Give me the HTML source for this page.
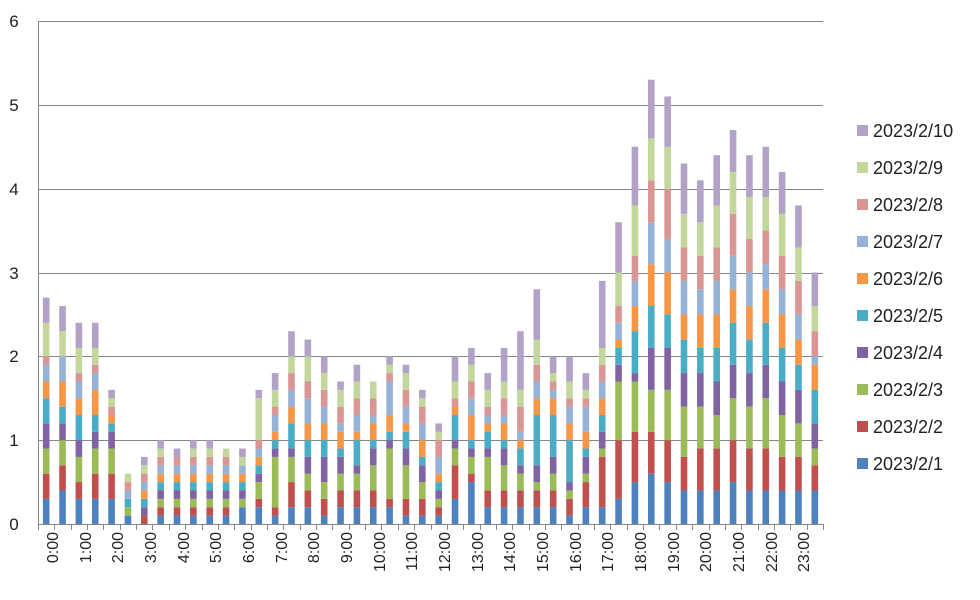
<!DOCTYPE html>
<html><head><meta charset="utf-8"><style>
html,body{margin:0;padding:0;background:#fff;}
svg{display:block;font-family:"Liberation Sans",sans-serif;}
</style></head><body>
<svg id="s" width="980" height="600" viewBox="0 0 980 600" xmlns="http://www.w3.org/2000/svg">
<g stroke="#868686" stroke-width="1">
<line x1="38" y1="21.5" x2="823" y2="21.5"/>
<line x1="38" y1="105.5" x2="823" y2="105.5"/>
<line x1="38" y1="189.5" x2="823" y2="189.5"/>
<line x1="38" y1="273.5" x2="823" y2="273.5"/>
<line x1="38" y1="356.5" x2="823" y2="356.5"/>
<line x1="38" y1="440.5" x2="823" y2="440.5"/>
<line x1="38" y1="524.5" x2="823" y2="524.5"/>
<line x1="38.5" y1="21" x2="38.5" y2="524"/>
</g>
<g id="bars"></g>
<g id="ticks" stroke="#868686" stroke-width="1"></g>
<g font-size="17" fill="#222" text-anchor="middle">
<text x="14" y="27">6</text><text x="14" y="111">5</text><text x="14" y="195">4</text>
<text x="14" y="279">3</text><text x="14" y="362">2</text><text x="14" y="446">1</text><text x="14" y="530">0</text>
</g>
<g font-size="16" fill="#222" text-anchor="end">
<text transform="translate(58,532) rotate(-90)">0:00</text>
<text transform="translate(91,532) rotate(-90)">1:00</text>
<text transform="translate(123,532) rotate(-90)">2:00</text>
<text transform="translate(156,532) rotate(-90)">3:00</text>
<text transform="translate(189,532) rotate(-90)">4:00</text>
<text transform="translate(221,532) rotate(-90)">5:00</text>
<text transform="translate(254,532) rotate(-90)">6:00</text>
<text transform="translate(287,532) rotate(-90)">7:00</text>
<text transform="translate(319,532) rotate(-90)">8:00</text>
<text transform="translate(352,532) rotate(-90)">9:00</text>
<text transform="translate(385,532) rotate(-90)">10:00</text>
<text transform="translate(417,532) rotate(-90)">11:00</text>
<text transform="translate(450,532) rotate(-90)">12:00</text>
<text transform="translate(483,532) rotate(-90)">13:00</text>
<text transform="translate(515,532) rotate(-90)">14:00</text>
<text transform="translate(548,532) rotate(-90)">15:00</text>
<text transform="translate(581,532) rotate(-90)">16:00</text>
<text transform="translate(613,532) rotate(-90)">17:00</text>
<text transform="translate(646,532) rotate(-90)">18:00</text>
<text transform="translate(679,532) rotate(-90)">19:00</text>
<text transform="translate(711,532) rotate(-90)">20:00</text>
<text transform="translate(744,532) rotate(-90)">21:00</text>
<text transform="translate(777,532) rotate(-90)">22:00</text>
<text transform="translate(809,532) rotate(-90)">23:00</text>
</g>
<g>
<rect x="857" y="125" width="11" height="11" fill="#B2A2C7"/>
<rect x="857" y="162" width="11" height="11" fill="#C3D69B"/>
<rect x="857" y="199" width="11" height="11" fill="#D99694"/>
<rect x="857" y="236" width="11" height="11" fill="#95B3D7"/>
<rect x="857" y="273" width="11" height="11" fill="#F79646"/>
<rect x="857" y="310" width="11" height="11" fill="#4BACC6"/>
<rect x="857" y="347" width="11" height="11" fill="#8064A2"/>
<rect x="857" y="384" width="11" height="11" fill="#9BBB59"/>
<rect x="857" y="421" width="11" height="11" fill="#C0504D"/>
<rect x="857" y="458" width="11" height="11" fill="#4F81BD"/>
</g>
<g font-size="18" fill="#222">
<text x="873" y="137">2023/2/10</text>
<text x="873" y="174">2023/2/9</text>
<text x="873" y="211">2023/2/8</text>
<text x="873" y="248">2023/2/7</text>
<text x="873" y="285">2023/2/6</text>
<text x="873" y="322">2023/2/5</text>
<text x="873" y="359">2023/2/4</text>
<text x="873" y="396">2023/2/3</text>
<text x="873" y="433">2023/2/2</text>
<text x="873" y="470">2023/2/1</text>
</g>
</svg>
<script>
var C=["#4F81BD","#C0504D","#9BBB59","#8064A2","#4BACC6","#F79646","#95B3D7","#D99694","#C3D69B","#B2A2C7"];
var D=[
[3,3,3,3,3,2,2,1,4,3],[4,3,3,2,2,3,3,0,3,3],[3,2,3,2,3,2,2,1,3,3],[3,3,3,2,2,3,2,1,2,3],
[3,3,3,2,1,1,0,1,1,1],[1,0,1,0,1,0,1,1,1,0],[0,1,0,1,1,1,1,1,1,1],[1,1,1,1,1,1,1,1,1,1],
[1,1,1,1,1,1,1,1,0,1],[1,1,1,1,1,1,1,1,1,1],[1,1,1,1,1,1,1,1,1,1],[1,1,1,1,1,1,1,1,1,0],
[2,0,1,1,1,1,1,0,1,1],[2,1,2,1,1,1,1,1,5,1],[1,1,6,1,1,1,2,1,2,2],[2,3,3,1,3,2,2,2,2,3],
[2,2,2,2,2,2,3,2,3,2],[1,2,2,3,2,2,2,2,2,2],[2,2,2,2,1,2,1,2,2,1],[2,2,2,1,3,1,2,2,2,2],
[2,2,3,2,1,2,1,2,2,0],[2,1,6,1,1,2,4,1,1,1],[1,2,4,2,2,1,2,2,2,1],[1,2,2,2,1,2,2,2,1,1],
[1,1,1,1,1,1,2,2,1,1],[3,4,2,1,3,1,0,1,2,3],[5,1,2,1,1,3,2,2,2,2],[2,2,4,1,2,1,1,1,2,2],
[2,2,3,2,1,2,1,2,2,4],[2,2,2,1,2,1,1,3,2,7],[2,2,1,2,6,2,2,2,3,6],[2,2,2,2,5,2,1,1,1,2],
[1,2,1,1,5,2,2,1,2,3],[2,3,1,2,1,2,3,1,1,2],[2,6,1,2,2,2,2,2,2,8],[3,7,7,2,2,1,2,2,4,6],
[5,6,6,1,5,3,3,3,6,7],[6,5,5,5,5,5,5,5,5,7],[5,5,6,5,4,5,4,6,5,6],[4,4,6,4,4,3,4,4,4,6],
[4,5,5,4,3,4,3,4,4,5],[4,5,4,4,4,4,4,4,5,6],[5,5,5,4,5,4,4,5,5,5],[4,5,5,4,4,4,4,4,5,5],
[4,5,6,4,5,4,3,4,4,6],[4,4,5,4,4,4,3,4,5,5],[4,4,4,4,3,3,3,4,4,5],[4,3,2,3,4,3,1,3,3,4]];
var ns="http://www.w3.org/2000/svg",g=document.getElementById("bars"),t=document.getElementById("ticks");
var U=83.83,step=785/48;
D.forEach(function(b,i){var cx=38+step*(i+0.5),y=524;
b.forEach(function(v,k){if(!v)return;var h=v*U/10;var r=document.createElementNS(ns,"rect");
r.setAttribute("x",(cx-3.3).toFixed(2));r.setAttribute("y",(y-h).toFixed(2));r.setAttribute("width","6.6");r.setAttribute("height",h.toFixed(2));r.setAttribute("fill",C[k]);g.appendChild(r);y-=h;});});
for(var i=0;i<=48;i++){var x=Math.round(38+step*i)+0.5;var l=document.createElementNS(ns,"line");
l.setAttribute("x1",x);l.setAttribute("x2",x);l.setAttribute("y1",524);l.setAttribute("y2",530);t.appendChild(l);}
</script>
</body></html>
